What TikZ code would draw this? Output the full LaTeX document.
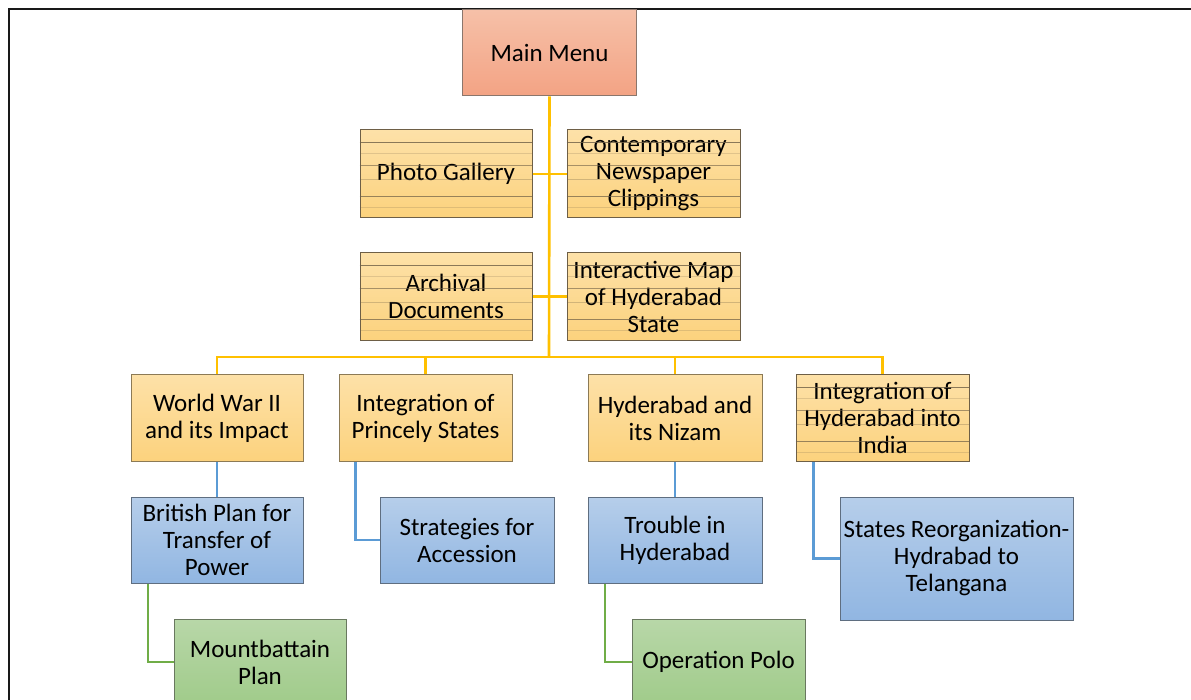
\documentclass[tikz,border=0pt]{standalone}
\usepackage{fontspec}
\setmainfont{Carlito}
\definecolor{goldline}{RGB}{255,192,0}
\definecolor{blueline}{RGB}{91,155,213}
\definecolor{greenline}{RGB}{112,173,71}
\definecolor{ortop}{RGB}{253,225,168}
\definecolor{orbot}{RGB}{252,210,125}
\definecolor{orborder}{RGB}{140,122,85}
\definecolor{saltop}{RGB}{246,192,168}
\definecolor{salbot}{RGB}{243,163,132}
\definecolor{salborder}{RGB}{138,118,108}
\definecolor{bltop}{RGB}{182,206,234}
\definecolor{blbot}{RGB}{145,182,226}
\definecolor{blborder}{RGB}{95,110,128}
\definecolor{grtop}{RGB}{184,215,168}
\definecolor{grbot}{RGB}{160,203,138}
\definecolor{grborder}{RGB}{105,120,95}
\definecolor{texcol}{RGB}{110,95,70}
\tikzset{
  box/.style={rectangle, line width=1pt, minimum width=172pt, minimum height=86pt,
    inner sep=0pt, align=center, text=black, font=\fontsize{25}{27}\selectfont},
  salbox/.style={box, draw=salborder, top color=saltop, bottom color=salbot},
  orbox/.style={box, draw=orborder, top color=ortop, bottom color=orbot},
  texbox/.style={box, draw=texcol, top color=ortop, bottom color=orbot},
  blbox/.style={box, draw=blborder, top color=bltop, bottom color=blbot},
  grbox/.style={box, draw=grborder, top color=grtop, bottom color=grbot},
  goldc/.style={draw=goldline, line width=2.6pt},
  bluec/.style={draw=blueline, line width=2.6pt},
  greenc/.style={draw=greenline, line width=2.6pt},
  texline/.style={draw=texcol, line width=0.9pt},
  frameline/.style={draw=black!90, line width=1.6pt}
}
\newcommand{\boxtexture}[1]{%
  \foreach \o/\op in {13/0.8,24/0.2,36/0.6,50/0.3,67/0.7,78/0.2}{
    \draw[texline, opacity=\op] ([yshift=-\o pt]#1.north west) -- ([yshift=-\o pt]#1.north east);
  }%
}
\begin{document}
\begin{tikzpicture}[x=1pt,y=-1pt]
\useasboundingbox (0,0) rectangle (1191,700);
\begin{scope}
\clip (0,0) rectangle (1191,700);
% frame
\coordinate (fr1) at (9,720);
\coordinate (fr2) at (9,9);
\coordinate (fr3) at (1220,9);
\draw[frameline] (fr1) -- (fr2) -- (fr3);
% nodes
\node[salbox, minimum width=174pt] (main) at (549.5,53) {Main Menu};
\node[texbox, minimum height=88pt] (photo) at (446,174) {Photo Gallery};
\node[texbox, minimum width=173pt, minimum height=88pt] (contemp) at (653.5,174) {Contemporary\\Newspaper\\Clippings};
\node[texbox, minimum height=88pt] (arch) at (446,296.5) {Archival\\Documents};
\node[texbox, minimum width=173pt, minimum height=88pt] (inter) at (653.5,296.5) {Interactive Map\\of Hyderabad\\State};
\node[orbox, minimum height=87pt] (wwii) at (217,418) {World War II\\and its Impact};
\node[orbox, minimum width=173pt, minimum height=87pt] (princely) at (425.5,418) {Integration of\\Princely States};
\node[orbox, minimum width=174pt, minimum height=87pt] (nizam) at (675,418) {Hyderabad and\\its Nizam};
\node[texbox, minimum width=173pt, minimum height=87pt] (inthyd) at (882.5,418) {Integration of\\Hyderabad into\\India};
\node[blbox] (british) at (217,540) {British Plan for\\Transfer of\\Power};
\node[blbox, minimum width=174pt] (strat) at (467,540) {Strategies for\\Accession};
\node[blbox, minimum width=174pt] (trouble) at (675,540) {Trouble in\\Hyderabad};
\node[blbox, minimum width=233pt, minimum height=123pt] (states) at (956.5,558.5) {States Reorganization-\\Hydrabad to\\Telangana};
\node[grbox] (mount) at (260,662) {Mountbattain\\Plan};
\node[grbox, minimum width=173pt] (polo) at (718.5,662) {Operation Polo};
% texture
\boxtexture{photo}
\boxtexture{contemp}
\boxtexture{arch}
\boxtexture{inter}
\boxtexture{inthyd}
% connectors
\coordinate (bus) at (549,357);
\draw[goldc] (main.south) -- (bus);
\draw[goldc] (photo.east) -- (contemp.west);
\draw[goldc] (arch.east) -- (inter.west);
\draw[goldc] (wwii.north) |- (bus) -| (inthyd.north);
\draw[goldc] (princely.north) |- (bus);
\draw[goldc] (nizam.north) |- (bus);
\draw[bluec] (wwii.south) -- (british.north);
\draw[bluec] ([xshift=-70pt]princely.south) |- (strat.west);
\draw[bluec] (nizam.south) -- (trouble.north);
\draw[bluec] ([xshift=-69pt]inthyd.south) |- (states.west);
\draw[greenc] ([xshift=-69pt]british.south) |- (mount.west);
\draw[greenc] ([xshift=-70pt]trouble.south) |- (polo.west);
\end{scope}
\end{tikzpicture}
\end{document}
